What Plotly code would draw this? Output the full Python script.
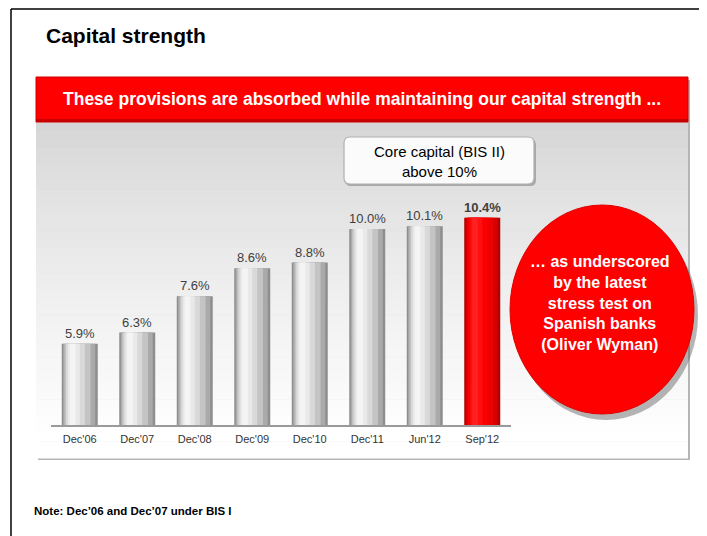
import plotly.graph_objects as go

# ---------------- data ----------------
categories = ["Dec'06", "Dec'07", "Dec'08", "Dec'09", "Dec'10", "Dec'11", "Jun'12", "Sep'12"]
core_capital = [5.9, 6.3, 7.6, 8.6, 8.8, 10.0, 10.1, 10.4]
value_labels = ["5.9%", "6.3%", "7.6%", "8.6%", "8.8%", "10.0%", "10.1%", "10.4%"]
highlight = [False, False, False, False, False, False, False, True]

title_text = "Capital strength"
banner_text = "These provisions are absorbed while maintaining our capital strength ..."
box_text = "Core capital (BIS II)<br>above 10%"
bubble_text = "… as underscored<br>by the latest<br>stress test on<br>Spanish banks<br>(Oliver Wyman)"
note_text = "Note: Dec\u201906 and Dec\u201907 under BIS I"

# ---------------- helpers ----------------
OFF = 8                      # page body margin offset
W, H = 707 - OFF, 536 - OFF  # figure size
FONT = "Arial, Liberation Sans, sans-serif"


def px(x):
    return (x - OFF) / W


def py(y):
    return 1 - (y - OFF) / H


fig = go.Figure()

# cylinder-like bars built from overlaid layers
bar_w = 0.626
layer_spans = [(0.0, 1.0), (0.04, 0.93), (0.08, 0.80), (0.12, 0.64), (0.17, 0.50), (0.22, 0.38)]
gray_cols = ["#8e8e8e", "#aaaaaa", "#c4c4c4", "#d9d9d9", "#e9e9e9", "#f4f4f4"]
red_cols = ["#b00000", "#d40000", "#ec0000", "#fa0000", "#ff1010", "#ff2020"]

for (l, r), gc, rc in zip(layer_spans, gray_cols, red_cols):
    fig.add_trace(go.Bar(
        x=categories, y=core_capital,
        width=bar_w * (r - l), offset=-bar_w / 2 + bar_w * l,
        marker=dict(color=[rc if h else gc for h in highlight], line=dict(width=0)),
        hoverinfo="skip", showlegend=False,
    ))

# value labels
for c, v, t, h in zip(categories, core_capital, value_labels, highlight):
    fig.add_annotation(x=c, y=v, xref="x", yref="y", text=f"<b>{t}</b>" if h else t,
                       showarrow=False, yanchor="bottom", yshift=1,
                       font=dict(family=FONT, size=13, color="#404040"))

shapes = []

# frame lines
shapes.append(dict(type="line", xref="paper", yref="paper", x0=px(11), x1=px(707), y0=py(9), y1=py(9),
                   line=dict(color="black", width=1.5), layer="below"))
shapes.append(dict(type="line", xref="paper", yref="paper", x0=px(11), x1=px(11), y0=py(9), y1=py(536),
                   line=dict(color="black", width=1.5), layer="below"))

# panel shadow
shapes.append(dict(type="rect", xref="paper", yref="paper", x0=px(38), x1=px(690), y0=py(460), y1=py(80),
                   fillcolor="#b5b5b5", line=dict(width=0), layer="below"))
# gradient panel
top, bottom = 122, 458
n = 40
c_top, c_bot = 214, 255
for i in range(n):
    y0 = top + (bottom - top) * i / n
    y1 = top + (bottom - top) * (i + 1) / n + 0.5
    f = min(1.0, (i / (n - 1)) ** 0.8 * 1.05)
    c = min(int(c_top + (c_bot - c_top) * f), 255)
    shapes.append(dict(type="rect", xref="paper", yref="paper", x0=px(36), x1=px(688), y0=py(y0), y1=py(y1),
                       fillcolor=f"rgb({c},{c},{c})", line=dict(width=0), layer="below"))

# red banner
shapes.append(dict(type="rect", xref="paper", yref="paper", x0=px(36), x1=px(688), y0=py(77), y1=py(122),
                   fillcolor="#ff0000", line=dict(color="#d00000", width=1), layer="below"))
shapes.append(dict(type="rect", xref="paper", yref="paper", x0=px(36), x1=px(688), y0=py(119), y1=py(122),
                   fillcolor="#c80000", line=dict(width=0), layer="below"))

# core capital rounded box
bx0, bx1, by0, by1, rr = 344, 534, 137, 184, 6


def rounded(x0, x1, y0, y1, r):
    X = px
    Y = py
    return (f"M {X(x0 + r)} {Y(y0)} L {X(x1 - r)} {Y(y0)} Q {X(x1)} {Y(y0)} {X(x1)} {Y(y0 + r)} "
            f"L {X(x1)} {Y(y1 - r)} Q {X(x1)} {Y(y1)} {X(x1 - r)} {Y(y1)} "
            f"L {X(x0 + r)} {Y(y1)} Q {X(x0)} {Y(y1)} {X(x0)} {Y(y1 - r)} "
            f"L {X(x0)} {Y(y0 + r)} Q {X(x0)} {Y(y0)} {X(x0 + r)} {Y(y0)} Z")


shapes.append(dict(type="path", xref="paper", yref="paper", path=rounded(bx0 + 1, bx1 + 2, by0 + 2, by1 + 2, rr),
                   fillcolor="#a8a8a8", line=dict(width=0), layer="below"))
shapes.append(dict(type="path", xref="paper", yref="paper", path=rounded(bx0, bx1, by0, by1, rr),
                   fillcolor="#fbfbfb", line=dict(color="#b0b0b0", width=1.2), layer="below"))

# red bubble with shadow
ex0, ex1, ey0, ey1 = 510, 694, 205, 414
shapes.append(dict(type="circle", xref="paper", yref="paper", x0=px(ex0 + 4), x1=px(ex1 + 4), y0=py(ey0 + 6),
                   y1=py(ey1 + 6), fillcolor="rgba(90,90,90,0.45)", line=dict(width=0), layer="above"))
shapes.append(dict(type="circle", xref="paper", yref="paper", x0=px(ex0), x1=px(ex1), y0=py(ey0), y1=py(ey1),
                   fillcolor="#ff0000", line=dict(color="#e00000", width=1), layer="above"))

fig.update_layout(shapes=shapes)

# texts
fig.add_annotation(x=px(44), y=py(36), xref="paper", yref="paper", text=f"<b>{title_text}</b>", showarrow=False,
                   xanchor="left", yanchor="middle", font=dict(family=FONT, size=21, color="black"))
fig.add_annotation(x=px(362), y=py(99), xref="paper", yref="paper", text=f"<b>{banner_text}</b>", showarrow=False,
                   xanchor="center", yanchor="middle", font=dict(family=FONT, size=17.5, color="white"))
fig.add_annotation(x=px(439), y=py(161), xref="paper", yref="paper", text=box_text, showarrow=False,
                   xanchor="center", yanchor="middle", align="center",
                   font=dict(family=FONT, size=15, color="black"))
fig.add_annotation(x=px(600), y=py(303), xref="paper", yref="paper", text=f"<b>{bubble_text}</b>", showarrow=False,
                   xanchor="center", yanchor="middle", align="center",
                   font=dict(family=FONT, size=16, color="white"))
fig.add_annotation(x=px(32), y=py(511), xref="paper", yref="paper", text=f"<b>{note_text}</b>", showarrow=False,
                   xanchor="left", yanchor="middle", font=dict(family=FONT, size=11.5, color="black"))

fig.update_layout(
    width=W, height=H,
    margin=dict(l=0, r=0, t=0, b=0),
    paper_bgcolor="white", plot_bgcolor="rgba(0,0,0,0)",
    barmode="overlay", showlegend=False,
    xaxis=dict(domain=[px(51), px(511)], range=[-0.5, 7.5], showline=True, linecolor="#9a9a9a", linewidth=1.5,
               ticks="", showgrid=False, zeroline=False, ticklabelstandoff=3,
               tickfont=dict(family=FONT, size=11, color="#333333"), fixedrange=True),
    yaxis=dict(domain=[py(425), py(190)], range=[3, 3 + 235 / 28], visible=False, showgrid=False,
               zeroline=False, fixedrange=True),
)

fig.write_html("out.html")
